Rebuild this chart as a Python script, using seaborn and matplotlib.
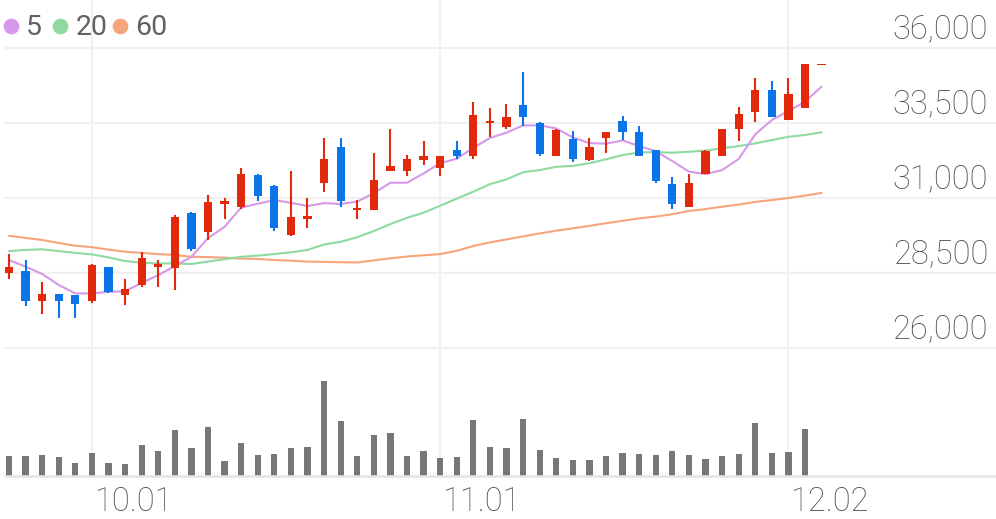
import matplotlib
matplotlib.use("Agg")
import matplotlib.pyplot as plt
import matplotlib.transforms as mtransforms
from matplotlib.lines import Line2D
import seaborn as sns
import numpy as np

# ---------------- data ----------------
opens = [28500, 28550, 27550, 27800, 27750, 27550, 28700, 27750, 28100, 28700,
         28650, 30500, 29850, 30800, 30700, 31750, 31400, 29750, 30300, 31500,
         32700, 30600, 30600, 31900, 31900, 32250, 32000, 32600, 32400, 33500,
         33350, 34100, 33500, 32400, 32950, 32250, 33000, 33550, 33200, 32600,
         31450, 30700, 31800, 32400, 33300, 33850, 34600, 33600, 34000, 35450]
highs = [29150, 28950, 28200, 27800, 27750, 28800, 28700, 28300, 29200, 28950,
         30450, 30550, 31100, 31000, 32000, 31800, 31450, 31900, 31000, 33000,
         33000, 30950, 32500, 33300, 32450, 32900, 32400, 32900, 34200, 34000,
         34150, 35200, 33550, 33300, 33250, 33000, 33200, 33750, 33400, 32600,
         31700, 31800, 32600, 33300, 34050, 35000, 34900, 35000, 35450, 35450]
lows = [28300, 27400, 27150, 27000, 27000, 27500, 27850, 27450, 28050, 28050,
        27950, 29250, 29600, 30300, 30650, 30900, 29900, 29750, 30000, 31200,
        30700, 30300, 30600, 31900, 31750, 32100, 31750, 32300, 32300, 33050,
        33300, 33400, 32400, 32400, 32200, 32250, 32500, 32950, 32400, 31500,
        30650, 30700, 31800, 32400, 32900, 33550, 33700, 33600, 34000, 35450]
closes = [28700, 27550, 27800, 27550, 27450, 28750, 27850, 27950, 29000, 28800,
          30350, 29300, 30850, 30900, 31800, 31050, 30000, 30350, 30400, 32300,
          30900, 30650, 31600, 32050, 32300, 32400, 32400, 32400, 33750, 33550,
          33700, 33700, 32450, 33250, 32300, 32700, 33200, 33200, 32400, 31550,
          30800, 31500, 32550, 33300, 33800, 34600, 33700, 34450, 35450, 35450]

ma5 = [28930, 28710, 28470, 28100, 27820, 27820, 27870, 27890, 28170, 28430,
       28730, 29040, 29660, 30040, 30680, 30810, 30930, 30840, 30730, 30830,
       30800, 30880, 31160, 31510, 31510, 31820, 32160, 32310, 32670, 33000,
       33180, 33420, 33420, 33320, 33020, 32830, 32810, 32920, 32730, 32560,
       32230, 31880, 31800, 31930, 32300, 33120, 33600, 33900, 34210, 34710]
ma20 = [29230, 29270, 29290, 29230, 29170, 29120, 29020, 28900, 28840, 28820,
        28820, 28800, 28880, 28960, 29040, 29080, 29130, 29190, 29270, 29450,
        29540, 29690, 29900, 30130, 30340, 30510, 30740, 30980, 31210, 31460,
        31620, 31860, 31930, 32040, 32070, 32160, 32290, 32430, 32520, 32530,
        32510, 32540, 32580, 32660, 32730, 32820, 32930, 33040, 33100, 33190]
ma60 = [29740, 29670, 29600, 29500, 29410, 29360, 29280, 29210, 29170, 29130,
        29100, 29040, 29030, 29010, 28980, 28970, 28930, 28910, 28880, 28870,
        28860, 28850, 28920, 28990, 29050, 29090, 29130, 29240, 29400, 29520,
        29620, 29720, 29820, 29910, 29990, 30070, 30160, 30240, 30320, 30380,
        30460, 30570, 30630, 30710, 30780, 30870, 30930, 31000, 31080, 31170]

volume = [197, 200, 210, 190, 130, 230, 130, 120, 307, 253,
          460, 277, 493, 153, 327, 210, 220, 280, 290, 947,
          550, 200, 407, 430, 200, 253, 180, 187, 560, 293,
          280, 570, 263, 183, 163, 160, 200, 230, 220, 210,
          253, 210, 173, 200, 220, 533, 227, 237, 467]

y_ticks = [26000, 28500, 31000, 33500, 36000]
x_tick_pos = [5, 26, 47]
x_tick_labels = ["10.01", "11.01", "12.02"]
legend_labels = ["5", "20", "60"]

# ---------------- style ----------------
sns.set_style("white")
plt.rcParams["font.family"] = ["Roboto", "DejaVu Sans"]

RED = "#e2290c"
BLUE = "#0a74e8"
C5, C20, C60 = "#d898ea", "#8edaa0", "#f6a47c"
GRID = "#f0f0f0"
TXT = "#4e4e4e"

W, H = 996, 519
fig = plt.figure(figsize=(W / 100, H / 100), dpi=100)
fig.patch.set_facecolor("white")

left = 5 / W
ax = fig.add_axes([left, 1 - 348 / H, 1 - left, 348 / H])
axv = fig.add_axes([left, 1 - 476 / H, 1 - left, 128 / H])

XMIN, XMAX = (5 - 9) / 16.583, (996 - 9) / 16.583

n = len(closes)
idx = np.arange(n)

# MA lines
for ma, c in [(ma60, C60), (ma20, C20), (ma5, C5)]:
    sns.lineplot(x=idx, y=ma, color=c, lw=1.5, ax=ax, legend=False, zorder=2)

# candles
body_w = 0.5
for i in range(n):
    o, h, l, c = opens[i], highs[i], lows[i], closes[i]
    col = RED if c >= o else BLUE
    ax.vlines(i, l, h, color=col, lw=1.5, zorder=3)
    lo = min(o, c)
    ht = max(abs(c - o), 60)
    if abs(c - o) < 60:
        lo = (o + c) / 2 - 30
    ax.bar(i, ht, bottom=lo, width=body_w, color=col, zorder=4, linewidth=0)

ax.set_xlim(XMIN, XMAX)
ax.set_ylim(26000, 37600)

# volume bars
sns.barplot(x=np.arange(len(volume)), y=volume, native_scale=True, color="#777777",
            saturation=1, width=0.38, errorbar=None, ax=axv, zorder=3, linewidth=0)
axv.set_xlim(XMIN, XMAX)
axv.set_ylim(0, 1280)

for a in (ax, axv):
    a.set_facecolor("none")
    for s in a.spines.values():
        s.set_visible(False)
    a.set_xticks([])
    a.set_yticks([])
    a.set_xlabel("")
    a.set_ylabel("")
    for xp in x_tick_pos:
        a.axvline(xp, color=GRID, lw=1.5, zorder=0)

# horizontal gridlines
for yt in y_ticks:
    ax.axhline(yt, color=GRID, lw=1.6, zorder=0, clip_on=False)
axv.axhline(0, color="#e4e4e4", lw=1.8, zorder=5, clip_on=False)

# y tick labels (inside, right, above gridline)
ytr = mtransforms.blended_transform_factory(ax.transAxes, ax.transData)
for yt in y_ticks:
    ax.annotate(f"{yt:,}", xy=((988 - 5) / (W - 5), yt), xycoords=ytr,
                xytext=(0, 7.0), textcoords="offset points",
                ha="right", va="baseline", fontsize=23.5, color=TXT,
                fontweight="light")

# x tick labels
xtr = mtransforms.blended_transform_factory(axv.transData, axv.transAxes)
for xp, lab in zip(x_tick_pos, x_tick_labels):
    axv.annotate(lab, xy=(xp, 0), xycoords=xtr, xytext=(1.5, -25.5),
                 textcoords="offset points", ha="left", va="baseline",
                 fontsize=23.5, color=TXT, fontweight="light", annotation_clip=False)

# legend
leg_circle_x = [10.5, 60.3, 120.0]
leg_text_x = [26.0, 75.5, 135.5]
for cx, tx, lab, col in zip(leg_circle_x, leg_text_x, legend_labels, [C5, C20, C60]):
    fig.add_artist(Line2D([cx / W], [1 - 26.3 / H], marker="o", markersize=11.3,
                          color=col, markeredgewidth=0, transform=fig.transFigure))
    fig.text(tx / W, 1 - 35 / H, lab, fontsize=20.5, color="#626262",
             ha="left", va="baseline", fontweight="normal")

fig.savefig("out.png", dpi=100, facecolor="white")
